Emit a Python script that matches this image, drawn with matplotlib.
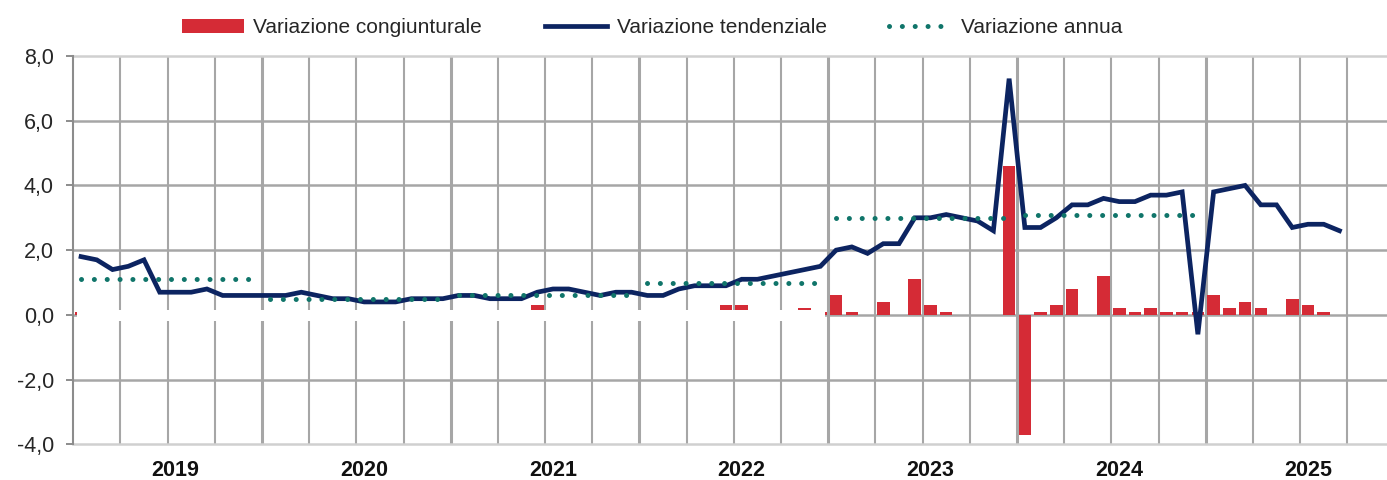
import numpy as np
import pandas as pd
import matplotlib
matplotlib.use("Agg")
import matplotlib.pyplot as plt
from matplotlib.patches import Rectangle, Patch
from matplotlib.lines import Line2D

plt.rcParams['font.family'] = ['Liberation Sans Narrow', 'Liberation Sans', 'DejaVu Sans']

# ---- data (monthly, Jan 2019 - Sep 2025) ----
months = pd.date_range("2019-01-01", "2025-09-01", freq="MS")

tendenziale = [1.8, 1.7, 1.4, 1.5, 1.7, 0.7, 0.7, 0.7, 0.8, 0.6, 0.6, 0.6,
               0.6, 0.6, 0.7, 0.6, 0.5, 0.5, 0.4, 0.4, 0.4, 0.5, 0.5, 0.5,
               0.6, 0.6, 0.5, 0.5, 0.5, 0.7, 0.8, 0.8, 0.7, 0.6, 0.7, 0.7,
               0.6, 0.6, 0.8, 0.9, 0.9, 0.9, 1.1, 1.1, 1.2, 1.3, 1.4, 1.5,
               2.0, 2.1, 1.9, 2.2, 2.2, 3.0, 3.0, 3.1, 3.0, 2.9, 2.6, 7.3,
               2.7, 2.7, 3.0, 3.4, 3.4, 3.6, 3.5, 3.5, 3.7, 3.7, 3.8, -0.6,
               3.8, 3.9, 4.0, 3.4, 3.4, 2.7, 2.8, 2.8, 2.6]

congiunturale = [0.1, 0, 0, 0, 0, 0, 0, 0, 0, 0, 0, 0,
                 0, 0, 0, 0, 0, 0, 0, 0, 0, 0, 0, 0,
                 0.15, 0, 0, 0, 0, 0.3, 0, 0, 0, 0, 0, 0,
                 0, 0, 0.15, 0, 0, 0.3, 0.3, 0, 0, 0, 0.2, 0.1,
                 0.6, 0.1, 0, 0.4, 0, 1.1, 0.3, 0.1, 0, 0, 0, 4.6,
                 -3.7, 0.1, 0.3, 0.8, 0, 1.2, 0.2, 0.1, 0.2, 0.1, 0.1, 0.1,
                 0.6, 0.2, 0.4, 0.2, 0, 0.5, 0.3, 0.1, 0]

annua_years = [2019, 2020, 2021, 2022, 2023, 2024]
annua_vals = [1.1, 0.5, 0.6, 1.0, 3.0, 3.1]

year_labels = ['2019', '2020', '2021', '2022', '2023', '2024', '2025']
yticks = [-4, -2, 0, 2, 4, 6, 8]

RED = '#d52b36'
NAVY = '#0c2461'
TEAL = '#10756a'
GRID = '#a6a6a6'

W, H = 1387, 480
fig = plt.figure(figsize=(W / 100, H / 100), dpi=100)
left_px, right_px = 73.2, 1394.5
top_px, bot_px = 56, 444.3
ax = fig.add_axes([left_px / W, 1 - bot_px / H, (right_px - left_px) / W, (bot_px - top_px) / H])

x = np.arange(len(months))
n_slots = 84
ax.set_xlim(-0.5, n_slots - 0.5)
ax.set_ylim(-4, 8)

# grid lines
for k in range(1, n_slots // 3):
    pos = -0.5 + 3 * k
    thick = (3 * k) % 12 == 0
    ax.axvline(pos, color=GRID, lw=2.2 if thick else 1.5, zorder=0.5)
for yv in yticks:
    edge = yv in (8, -4)
    ax.axhline(yv, color='#d0d0d0' if edge else GRID, lw=1.8, zorder=0.5, clip_on=False)

# bars
ax.bar(x, congiunturale, width=0.8, color=RED, zorder=1)

# white band over the zero line (2019-2022)
ax.add_patch(Rectangle((-0.26, -0.2), 47.55, 0.34, facecolor='white', edgecolor='none', zorder=1.5))

# line
ax.plot(x, tendenziale, color=NAVY, lw=3.4, zorder=2, solid_joinstyle='miter')

# annual dotted segments
DOT_LW = 3.6
dot_style = (0, (0.01, 12.8 / (DOT_LW / 0.72)))
for yr, v in zip(annua_years, annua_vals):
    i0 = (yr - 2019) * 12
    ax.plot([i0, i0 + 11], [v, v], color=TEAL, lw=DOT_LW, linestyle=dot_style,
            dash_capstyle='round', zorder=3)

# axes styling
for s in ['top', 'right', 'bottom']:
    ax.spines[s].set_visible(False)
ax.spines['left'].set_color('#8c8c8c')
ax.spines['left'].set_linewidth(1.5)
ax.set_yticks(yticks)
ax.set_yticklabels([f"{v:.1f}".replace('.', ',') for v in yticks])
ax.tick_params(axis='y', direction='out', length=5, width=1.4, color='#8c8c8c',
               pad=9, labelsize=15.5, labelcolor='#262626')

ax.set_xticks([12 * i + 6 for i in range(len(year_labels))])
ax.set_xticklabels(year_labels, fontweight='bold')
ax.tick_params(axis='x', length=0, pad=11, labelsize=15.5, labelcolor='#111111')

# legend
handles = [Patch(facecolor=RED, edgecolor='none'),
           Line2D([0], [0], color=NAVY, lw=3.4),
           Line2D([0], [0], color=TEAL, lw=DOT_LW, linestyle=dot_style, dash_capstyle='round')]
labels = ['Variazione congiunturale', 'Variazione tendenziale', 'Variazione annua']
fig.legend(handles, labels, loc='center', bbox_to_anchor=(0.470, 0.942), ncol=3,
           frameon=False, fontsize=15, handlelength=3.0, handletextpad=0.45,
           columnspacing=3.0, labelcolor='#262626')

fig.savefig('out.png', dpi=100)
